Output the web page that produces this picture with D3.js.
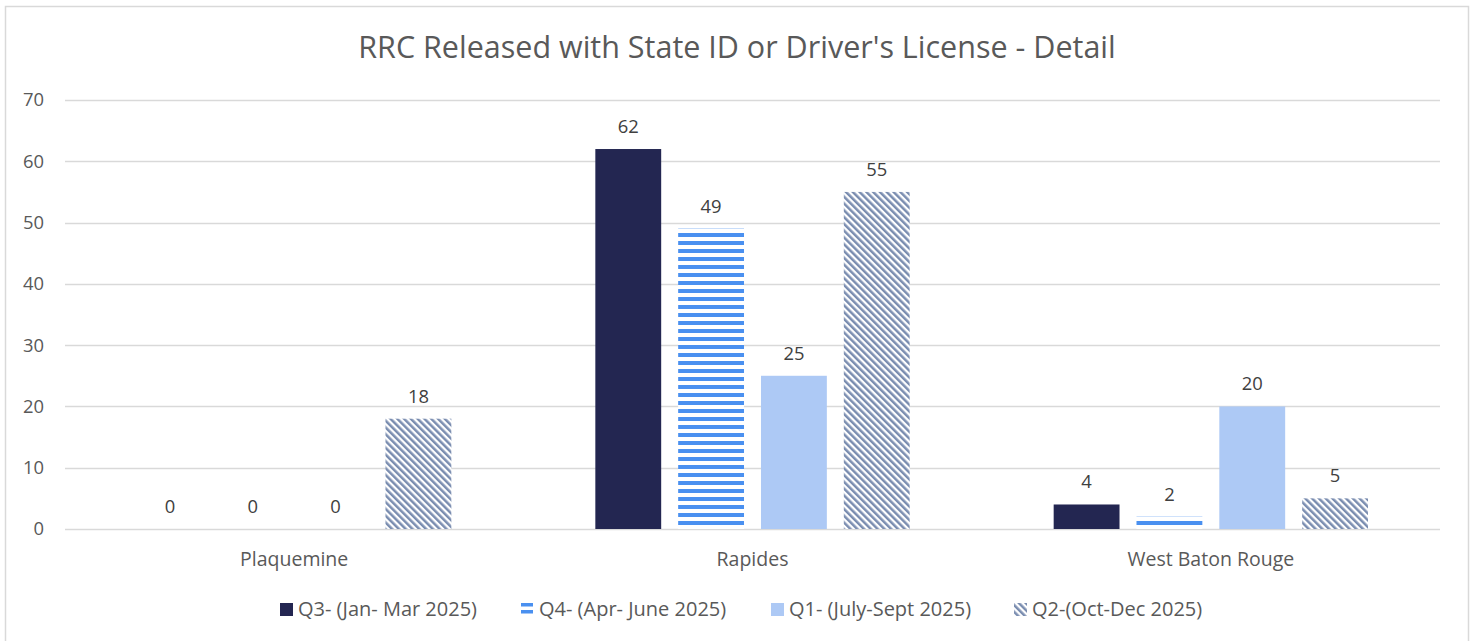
<!DOCTYPE html>
<html>
<head>
<meta charset="utf-8">
<script src="https://cdn.jsdelivr.net/npm/d3@7"></script>
<style>
  html, body { margin: 0; padding: 0; background: #fff; }
  svg { display: block; }
  text { font-family: "Open Sans", "Noto Sans", sans-serif; }
</style>
</head>
<body>
<svg id="chart" width="1476" height="641"></svg>
<script>
// Chart data
const title = "RRC Released with State ID or Driver's License - Detail";
const categories = ["Plaquemine", "Rapides", "West Baton Rouge"];
const seriesNames = [
  "Q3- (Jan- Mar 2025)",
  "Q4- (Apr- June 2025)",
  "Q1- (July-Sept 2025)",
  "Q2-(Oct-Dec 2025)"
];
const q3Values = [0, 62, 4];
const q4Values = [0, 49, 2];
const q1Values = [0, 25, 20];
const q2Values = [18, 55, 5];
const yTicks = [0, 10, 20, 30, 40, 50, 60, 70];

const seriesValues = [q3Values, q4Values, q1Values, q2Values];
const fills = ["#232651", "url(#stripes)", "#adc9f5", "url(#hatch)"];

const FONT = "\"Open Sans\", \"Noto Sans\", sans-serif";
const svg = d3.select("#chart");

// Outer frame
svg.append("rect")
  .attr("x", 5.5).attr("y", 6.5)
  .attr("width", 1463).attr("height", 660)
  .attr("fill", "#fff").attr("stroke", "#d9d9d9").attr("stroke-width", 1.5);

// Fill patterns
const defs = svg.append("defs");
const stripes = defs.append("pattern")
  .attr("id", "stripes").attr("patternUnits", "userSpaceOnUse")
  .attr("width", 8).attr("height", 8);
stripes.append("rect").attr("width", 8).attr("height", 8).attr("fill", "#ffffff");
stripes.append("rect").attr("y", 1).attr("width", 8).attr("height", 4).attr("fill", "#4a90f0");

const hatch = defs.append("pattern")
  .attr("id", "hatch").attr("patternUnits", "userSpaceOnUse")
  .attr("width", 4.8).attr("height", 4.8)
  .attr("patternTransform", "rotate(-45)");
hatch.append("rect").attr("width", 4.8).attr("height", 4.8).attr("fill", "#ffffff");
hatch.append("rect").attr("x", 0).attr("width", 2.5).attr("height", 4.8).attr("fill", "#7a8db0");

// Title
svg.append("text")
  .attr("x", 737).attr("y", 58)
  .attr("text-anchor", "middle")
  .attr("font-size", 30.5)
  .attr("fill", "#595959")
  .text(title);

// Scales
const plotLeft = 65, plotRight = 1440;
const y = d3.scaleLinear().domain([0, 70]).range([529, 100]);
const x0 = d3.scaleBand().domain(categories).range([plotLeft, plotRight]).padding(0);
const x1 = d3.scaleBand().domain(d3.range(4))
  .range([72, x0.bandwidth() - 72]).paddingInner(0.205).paddingOuter(0);

// Gridlines
svg.append("g")
  .selectAll("line")
  .data(yTicks)
  .join("line")
  .attr("x1", plotLeft).attr("x2", plotRight)
  .attr("y1", d => Math.round(y(d)) + 0.5).attr("y2", d => Math.round(y(d)) + 0.5)
  .attr("stroke", "#d9d9d9").attr("stroke-width", 1.3);

// Y axis labels
const yAxis = d3.axisLeft(y).tickValues(yTicks).tickSize(0).tickPadding(0);
const yg = svg.append("g").attr("transform", "translate(44,0)").call(yAxis);
yg.select(".domain").remove();
yg.selectAll("text")
  .attr("font-size", 18.4).attr("fill", "#595959")
  .attr("font-family", FONT);

// Bars and value labels
const groups = svg.append("g").selectAll("g")
  .data(categories)
  .join("g")
  .attr("transform", d => `translate(${x0(d)},0)`);

groups.each(function (cat, ci) {
  const g = d3.select(this);
  seriesValues.forEach((vals, si) => {
    const v = vals[ci];
    if (v > 0) {
      g.append("rect")
        .attr("x", x1(si))
        .attr("y", y(v))
        .attr("width", x1.bandwidth())
        .attr("height", y(0) - y(v))
        .attr("fill", fills[si]);
    }
    g.append("text")
      .attr("x", x1(si) + x1.bandwidth() / 2)
      .attr("y", y(v) - 16)
      .attr("text-anchor", "middle")
      .attr("font-size", 18.4)
      .attr("fill", "#404040")
      .text(v);
  });
});

// Category axis labels
const xAxis = d3.axisBottom(x0).tickSize(0).tickPadding(0);
const xg = svg.append("g").attr("transform", "translate(0,0)").call(xAxis);
xg.select(".domain").remove();
xg.selectAll("text")
  .attr("y", 566).attr("dy", null)
  .attr("font-size", 19.5).attr("fill", "#595959")
  .attr("font-family", FONT);

// Legend
const legendX = [280, 521, 771, 1014];
const legend = svg.append("g");
seriesNames.forEach((name, i) => {
  const lx = legendX[i];
  if (i === 1) {
    legend.append("rect").attr("x", lx).attr("y", 603).attr("width", 12).attr("height", 3.5).attr("fill", "#4a90f0");
    legend.append("rect").attr("x", lx).attr("y", 610).attr("width", 12).attr("height", 3.5).attr("fill", "#4a90f0");
  } else {
    legend.append("rect")
      .attr("x", lx).attr("y", 603)
      .attr("width", 13).attr("height", 13)
      .attr("fill", i === 0 ? "#232651" : i === 2 ? "#adc9f5" : "url(#hatch)");
  }
  legend.append("text")
    .attr("x", lx + 18).attr("y", 616)
    .attr("font-size", 20).attr("fill", "#595959")
    .text(name);
});
</script>
</body>
</html>
